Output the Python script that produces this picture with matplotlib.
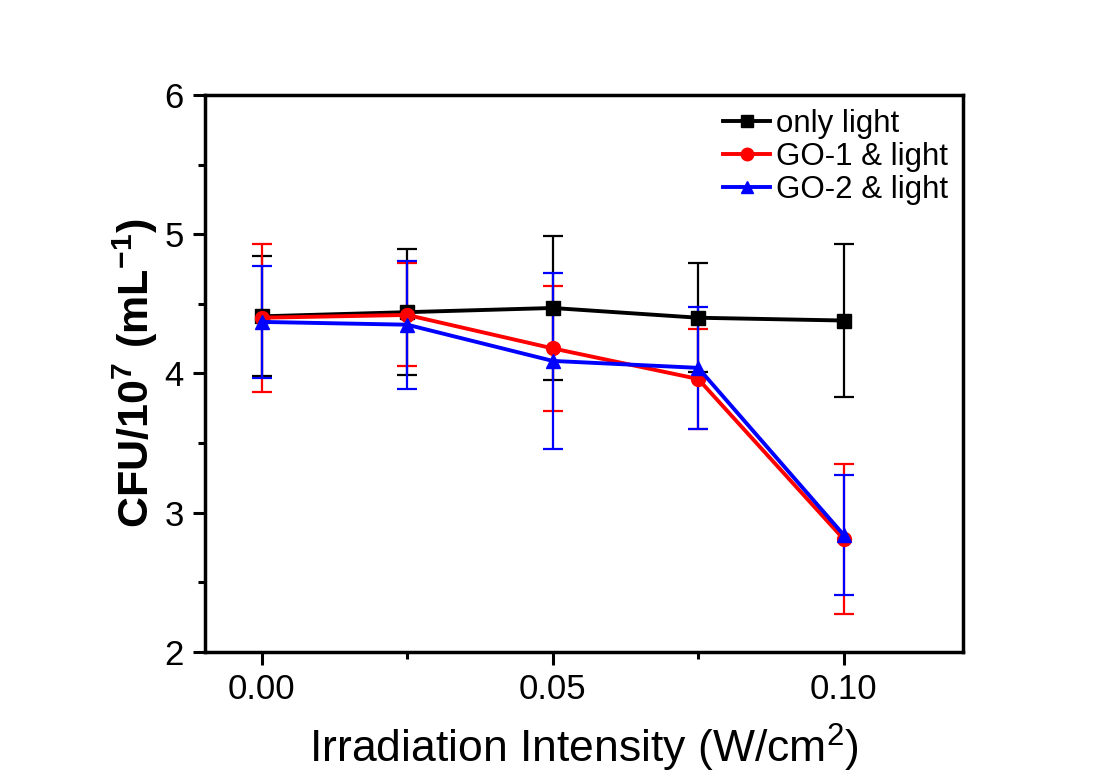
import numpy as np
import matplotlib
matplotlib.use('Agg')
import matplotlib.pyplot as plt
from matplotlib.ticker import MultipleLocator
from matplotlib.lines import Line2D

plt.rcParams['font.family'] = ['Liberation Sans', 'DejaVu Sans']
plt.rcParams['mathtext.fontset'] = 'custom'
plt.rcParams['mathtext.rm'] = 'Liberation Sans'
plt.rcParams['mathtext.bf'] = 'Liberation Sans:bold'

# data
intensity = [0.0, 0.025, 0.05, 0.075, 0.10]

only_light = [4.41, 4.44, 4.47, 4.40, 4.38]
only_light_err = [0.43, 0.45, 0.52, 0.39, 0.55]

go1_light = [4.40, 4.42, 4.18, 3.96, 2.81]
go1_light_err = [0.53, 0.37, 0.45, 0.36, 0.54]

go2_light = [4.37, 4.35, 4.09, 4.04, 2.84]
go2_light_err = [0.40, 0.46, 0.63, 0.44, 0.43]

series = [
    ('only light', only_light, only_light_err, 'black', 's'),
    ('GO-1 & light', go1_light, go1_light_err, 'red', 'o'),
    ('GO-2 & light', go2_light, go2_light_err, 'blue', '^'),
]

fig = plt.figure(figsize=(11, 7.78), dpi=100)
ax = fig.add_axes([0.186, 0.162, 0.689, 0.716])

handles = []
for name, vals, err, col, mk in series:
    ax.errorbar(intensity, vals, yerr=err, color=col, marker=mk, markersize=10,
                linewidth=2.8, elinewidth=1.6, capsize=7, capthick=1.6)
    handles.append(Line2D([], [], color=col, marker=mk, markersize=9,
                          linewidth=2.8, label=name))

ax.set_xlim(-0.0098, 0.1204)
ax.set_ylim(2, 6)
ax.xaxis.set_major_locator(MultipleLocator(0.05))
ax.xaxis.set_minor_locator(MultipleLocator(0.025))
ax.yaxis.set_major_locator(MultipleLocator(1))
ax.yaxis.set_minor_locator(MultipleLocator(0.5))
ax.xaxis.set_major_formatter(plt.FuncFormatter(lambda v, p: f'{v:.2f}'))

ax.tick_params(which='both', direction='out', top=False, right=False,
               width=2.2, labelsize=25)
ax.tick_params(which='major', length=9, pad=6)
ax.tick_params(which='minor', length=5)
for s in ax.spines.values():
    s.set_linewidth(2.5)

ax.set_xlabel('Irradiation Intensity (W/cm$^2$)', fontsize=32, va='center')
ax.xaxis.set_label_coords(0.5, -0.172)
ax.set_ylabel(r'$\mathbf{CFU/10^7\ (mL^{-1})}$', fontsize=31, va='center')
ax.yaxis.set_label_coords(-0.092, 0.5)

ax.legend(handles=handles, loc='upper right', fontsize=22.5, frameon=False,
          handlelength=1.5, handletextpad=0.2, labelspacing=0.1,
          borderaxespad=0.15, borderpad=0.3)

fig.savefig('out.png', dpi=100)
